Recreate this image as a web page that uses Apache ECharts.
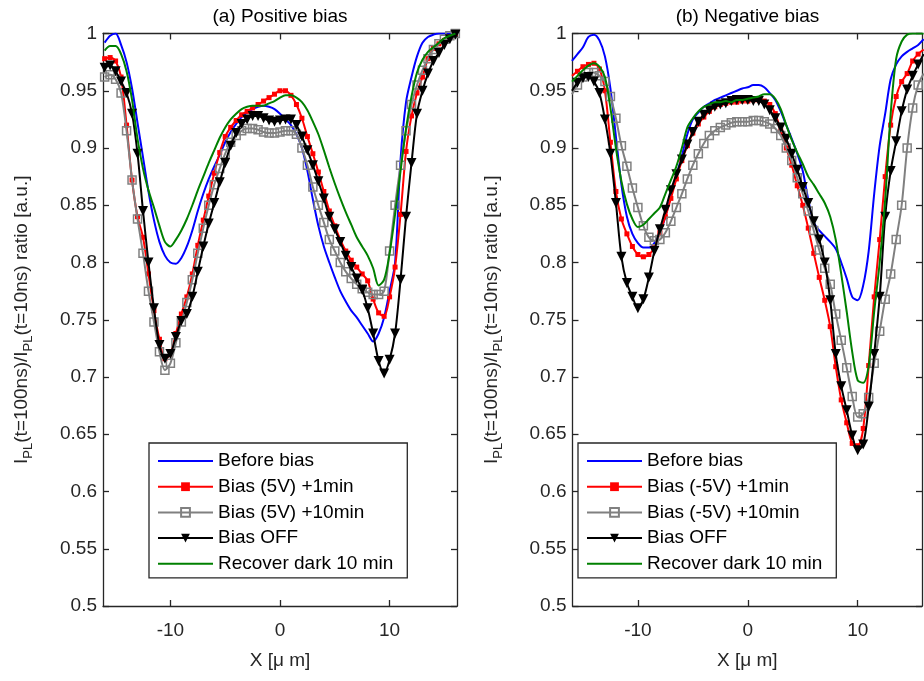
<!DOCTYPE html>
<html><head><meta charset="utf-8">
<script src="https://cdn.jsdelivr.net/npm/echarts@6/dist/echarts.min.js"></script>
<style>html,body{margin:0;padding:0;background:#fff}#c{width:924px;height:681px}</style>
</head><body><div id="c"></div>
<script>
// ---- data ----
const xPos = [-16,-15.5,-15,-14.5,-14,-13.5,-13,-12.5,-12,-11.5,-11,-10.5,-10,-9.5,-9,-8.5,-8,-7.5,-7,-6.5,-6,-5.5,-5,-4.5,-4,-3.5,-3,-2.5,-2,-1.5,-1,-0.5,0,0.5,1,1.5,2,2.5,3,3.5,4,4.5,5,5.5,6,6.5,7,7.5,8,8.5,9,9.5,10,10.5,11,11.5,12,12.5,13,13.5,14,14.5,15,15.5,16];
const xTicks = [-10, 0, 10];
const titles = ['(a) Positive bias', '(b) Negative bias'];
const namesA = ['Before bias', 'Bias (5V) +1min', 'Bias (5V) +10min', 'Bias OFF', 'Recover dark 10 min'];
const namesB = ['Before bias', 'Bias (-5V) +1min', 'Bias (-5V) +10min', 'Bias OFF', 'Recover dark 10 min'];

// (a) Positive bias
const aBefore = [0.992,0.998,1.0,0.99,0.975,0.952,0.922,0.892,0.862,0.837,0.818,0.806,0.800,0.799,0.804,0.814,0.828,0.845,0.86,0.873,0.884,0.894,0.905,0.914,0.921,0.927,0.931,0.934,0.936,0.937,0.936,0.934,0.930,0.925,0.92,0.912,0.90,0.88,0.855,0.832,0.814,0.80,0.787,0.775,0.766,0.758,0.752,0.745,0.738,0.731,0.738,0.752,0.775,0.80,0.89,0.94,0.962,0.98,0.992,0.997,0.999,1.0,1.0,1.0,1.0];
const aBias1 = [0.978,0.979,0.976,0.962,0.92,0.872,0.84,0.822,0.79,0.758,0.733,0.716,0.72,0.738,0.755,0.77,0.79,0.815,0.837,0.858,0.878,0.896,0.91,0.918,0.924,0.929,0.932,0.935,0.938,0.941,0.944,0.947,0.950,0.950,0.946,0.938,0.926,0.91,0.895,0.879,0.862,0.845,0.832,0.82,0.81,0.802,0.796,0.79,0.784,0.768,0.756,0.753,0.77,0.796,0.842,0.897,0.928,0.948,0.962,0.978,0.987,0.991,0.994,0.997,1.0];
const aBias10 = [0.962,0.964,0.96,0.948,0.915,0.872,0.838,0.808,0.775,0.748,0.722,0.706,0.712,0.73,0.748,0.765,0.785,0.808,0.83,0.85,0.868,0.882,0.895,0.905,0.911,0.915,0.917,0.917,0.916,0.914,0.913,0.913,0.914,0.915,0.915,0.912,0.90,0.885,0.866,0.85,0.835,0.82,0.81,0.80,0.792,0.786,0.781,0.777,0.774,0.772,0.772,0.775,0.81,0.85,0.885,0.915,0.938,0.955,0.968,0.978,0.986,0.991,0.995,0.998,1.0];
const aOff = [0.970,0.972,0.967,0.958,0.948,0.93,0.895,0.845,0.80,0.76,0.728,0.716,0.72,0.735,0.749,0.755,0.77,0.792,0.814,0.834,0.852,0.87,0.887,0.902,0.913,0.921,0.925,0.928,0.928,0.926,0.924,0.923,0.924,0.925,0.925,0.92,0.91,0.898,0.885,0.871,0.856,0.84,0.829,0.818,0.806,0.796,0.786,0.776,0.76,0.738,0.714,0.703,0.715,0.738,0.785,0.84,0.887,0.93,0.95,0.965,0.976,0.983,0.99,0.995,0.999];
const aRecover = [0.985,0.989,0.989,0.982,0.967,0.942,0.908,0.882,0.863,0.848,0.832,0.818,0.814,0.820,0.828,0.838,0.850,0.863,0.875,0.887,0.898,0.909,0.918,0.925,0.930,0.934,0.936,0.937,0.937,0.937,0.939,0.941,0.944,0.946,0.946,0.944,0.940,0.933,0.923,0.912,0.898,0.883,0.869,0.856,0.844,0.833,0.822,0.814,0.806,0.795,0.780,0.785,0.808,0.842,0.880,0.917,0.945,0.966,0.977,0.984,0.988,0.992,0.996,0.998,1.0];

// (b) Negative bias
const bBefore = [0.976,0.982,0.988,0.997,0.999,0.994,0.98,0.952,0.91,0.868,0.84,0.825,0.817,0.813,0.813,0.817,0.826,0.84,0.858,0.876,0.893,0.912,0.925,0.931,0.936,0.939,0.942,0.944,0.946,0.948,0.95,0.952,0.953,0.955,0.955,0.953,0.948,0.942,0.932,0.92,0.908,0.895,0.88,0.855,0.835,0.828,0.823,0.818,0.812,0.80,0.786,0.77,0.767,0.78,0.81,0.86,0.902,0.93,0.96,0.973,0.98,0.984,0.987,0.99,0.995];
const bBias1 = [0.963,0.967,0.971,0.973,0.974,0.969,0.95,0.905,0.862,0.838,0.825,0.814,0.807,0.805,0.807,0.813,0.826,0.84,0.856,0.873,0.889,0.902,0.913,0.921,0.927,0.932,0.936,0.938,0.939,0.94,0.94,0.941,0.941,0.942,0.942,0.941,0.938,0.93,0.915,0.9,0.885,0.867,0.85,0.83,0.808,0.787,0.767,0.744,0.709,0.68,0.66,0.642,0.64,0.655,0.71,0.77,0.82,0.875,0.92,0.945,0.958,0.965,0.976,0.982,0.986];
const bBias10 = [0.947,0.955,0.962,0.966,0.966,0.963,0.958,0.945,0.926,0.902,0.884,0.865,0.848,0.832,0.822,0.819,0.82,0.826,0.836,0.848,0.86,0.873,0.885,0.895,0.904,0.911,0.915,0.918,0.92,0.922,0.923,0.923,0.923,0.924,0.924,0.923,0.921,0.917,0.911,0.9,0.889,0.874,0.86,0.845,0.828,0.811,0.795,0.781,0.755,0.732,0.708,0.683,0.665,0.668,0.682,0.712,0.74,0.768,0.79,0.82,0.85,0.9,0.935,0.955,0.965];
const bOff = [0.950,0.957,0.961,0.962,0.958,0.948,0.925,0.895,0.852,0.805,0.782,0.77,0.76,0.768,0.787,0.81,0.829,0.846,0.863,0.877,0.89,0.903,0.914,0.923,0.929,0.933,0.936,0.938,0.939,0.941,0.942,0.942,0.942,0.941,0.941,0.938,0.933,0.926,0.918,0.908,0.895,0.881,0.866,0.852,0.836,0.82,0.80,0.767,0.72,0.692,0.671,0.649,0.636,0.641,0.674,0.72,0.77,0.84,0.88,0.906,0.932,0.951,0.963,0.973,0.982];
const bRecover = [0.958,0.963,0.968,0.972,0.974,0.971,0.962,0.935,0.90,0.871,0.851,0.838,0.831,0.833,0.838,0.843,0.848,0.86,0.872,0.884,0.90,0.918,0.926,0.932,0.936,0.938,0.94,0.94,0.941,0.94,0.942,0.942,0.943,0.944,0.945,0.947,0.947,0.943,0.934,0.92,0.907,0.896,0.886,0.875,0.868,0.86,0.852,0.84,0.82,0.79,0.757,0.722,0.697,0.695,0.71,0.757,0.80,0.855,0.93,0.978,0.993,0.999,1.0,1.0,1.0];

// ---- chart ----
const FONT = '"Liberation Sans", Arial, Helvetica, sans-serif';
const TXT = '#262626';
const AX = '#262626';
const chart = echarts.init(document.getElementById('c'), null, {renderer: 'canvas'});

const grids = [
  {left: 103, top: 33.5, width: 354, height: 572.5},
  {left: 572.5, top: 33.5, width: 349.5, height: 572.5}
];
const xRanges = [[-16.15, 16.15], [-15.95, 15.85]];

const xAxes = [], yAxes = [];
for (let g = 0; g < 2; g++) {
  ['bottom', 'top'].forEach((pos, k) => {
    xAxes.push({
      type: 'value', gridIndex: g, position: pos,
      min: xRanges[g][0], max: xRanges[g][1],
      name: k === 0 ? 'X [\u03bc m]' : '', nameLocation: 'middle', nameGap: 45,
      nameTextStyle: {fontSize: 19, color: TXT, fontFamily: FONT},
      axisLine: {show: true, onZero: false, lineStyle: {color: AX, width: 1.3}},
      axisTick: {show: true, inside: true, length: 6, customValues: xTicks, lineStyle: {color: AX, width: 1.3}},
      axisLabel: {show: k === 0, customValues: xTicks, margin: 15, fontSize: 19, color: TXT, fontFamily: FONT},
      splitLine: {show: false}
    });
  });
  ['left', 'right'].forEach((pos, k) => {
    yAxes.push({
      type: 'value', gridIndex: g, position: pos,
      min: 0.5, max: 1, interval: 0.05,
      name: k === 0 ? '{t|I}{s|PL}{t|(t=100ns)/I}{s|PL}{t|(t=10ns) ratio [a.u.]}' : '',
      nameLocation: 'middle', nameGap: 68,
      nameTextStyle: {
        color: TXT, fontFamily: FONT,
        rich: {
          t: {fontSize: 19, lineHeight: 26, color: TXT, fontFamily: FONT},
          s: {fontSize: 13, lineHeight: 13, verticalAlign: 'bottom', color: TXT, fontFamily: FONT}
        }
      },
      axisLine: {show: true, onZero: false, lineStyle: {color: AX, width: 1.3}},
      axisTick: {show: true, inside: true, length: 6, lineStyle: {color: AX, width: 1.3}},
      axisLabel: {show: k === 0, margin: 6, fontSize: 19, color: TXT, fontFamily: FONT},
      splitLine: {show: false}
    });
  });
}

function pts(vals) { return xPos.map((x, i) => [x, vals[i]]); }

function seriesFor(g, names, before, b1, b10, off, rec) {
  const ai = g * 2;
  return [
    {type: 'line', name: names[0], xAxisIndex: ai, yAxisIndex: ai, data: pts(before), smooth: 0.3,
     symbol: 'none', lineStyle: {color: '#0000ff', width: 2}, itemStyle: {color: '#0000ff'}, z: 2},
    {type: 'line', name: names[1], xAxisIndex: ai, yAxisIndex: ai, data: pts(b1), smooth: 0.3,
     symbol: 'rect', symbolSize: 5, showAllSymbol: true,
     lineStyle: {color: '#ff0000', width: 2}, itemStyle: {color: '#ff0000'}, z: 3},
    {type: 'line', name: names[2], xAxisIndex: ai, yAxisIndex: ai, data: pts(b10), smooth: 0.3,
     symbol: 'rect', symbolSize: 8, showAllSymbol: true,
     lineStyle: {color: '#808080', width: 2},
     itemStyle: {color: 'rgba(255,255,255,0)', borderColor: '#808080', borderWidth: 1.5}, z: 4},
    {type: 'line', name: names[3], xAxisIndex: ai, yAxisIndex: ai, data: pts(off), smooth: 0.3,
     symbol: 'triangle', symbolRotate: 180, symbolSize: 10, showAllSymbol: true,
     lineStyle: {color: '#000000', width: 2}, itemStyle: {color: '#000000'}, z: 5},
    {type: 'line', name: names[4], xAxisIndex: ai, yAxisIndex: ai, data: pts(rec), smooth: 0.3,
     symbol: 'none', lineStyle: {color: '#008000', width: 2}, itemStyle: {color: '#008000'}, z: 6}
  ];
}

const series = [].concat(
  seriesFor(0, namesA, aBefore, aBias1, aBias10, aOff, aRecover),
  seriesFor(1, namesB, bBefore, bBias1, bBias10, bOff, bRecover)
);

const hiddenMark = {color: 'rgba(0,0,0,0)', borderColor: 'rgba(0,0,0,0)', borderWidth: 0};
function legendAt(left, names) {
  return {
    data: [
      {name: names[0], itemStyle: hiddenMark, lineStyle: {color: '#0000ff', width: 2}},
      {name: names[1]},
      {name: names[2]},
      {name: names[3]},
      {name: names[4], itemStyle: hiddenMark, lineStyle: {color: '#008000', width: 2}}
    ],
    left: left, top: 443, orient: 'vertical',
    itemWidth: 55, itemHeight: 11, itemGap: 5.7,
    padding: [8, 14, 4, 8],
    borderColor: '#262626', borderWidth: 1.3, backgroundColor: '#ffffff',
    selectedMode: false,
    textStyle: {fontSize: 19, lineHeight: 20, color: '#000', fontFamily: FONT}
  };
}

chart.setOption({
  animation: false,
  backgroundColor: '#ffffff',
  grid: grids,
  xAxis: xAxes,
  yAxis: yAxes,
  legend: [legendAt(149, namesA), legendAt(578, namesB)],
  graphic: [
    {type: 'text', x: 280, y: 7, style: {text: titles[0], fontSize: 19, fill: '#000', fontFamily: FONT, textAlign: 'center'}},
    {type: 'text', x: 747.5, y: 7, style: {text: titles[1], fontSize: 19, fill: '#000', fontFamily: FONT, textAlign: 'center'}}
  ],
  series: series
});
</script>
</body></html>
